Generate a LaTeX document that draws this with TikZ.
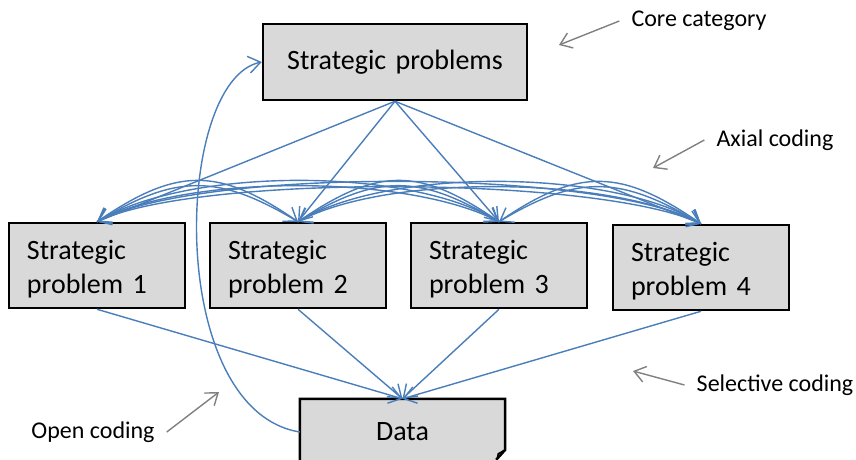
\documentclass[tikz,border=0pt]{standalone}
\usepackage{fontspec}
\setmainfont{Carlito}
\usepackage{tikz}
\usetikzlibrary{arrows.meta,backgrounds}
\definecolor{lineblue}{HTML}{4A7EBB}
\definecolor{boxgray}{HTML}{D9D9D9}
\tikzstyle{box}=[draw, line width=2.5pt, fill=boxgray, minimum height=85pt, text width=140pt, inner xsep=18pt, align=left, font=\fontsize{28}{34}\selectfont]
\tikzstyle{flow}=[lineblue, line width=1.4pt, -{Straight Barb[length=12pt,width=17pt]}]
\tikzstyle{note}=[gray, line width=1.4pt, -{Straight Barb[length=11pt,width=16pt]}]
\tikzstyle{hint}=[font=\fontsize{24}{29}\selectfont, inner xsep=12pt]

\begin{document}
\begin{tikzpicture}[x=1pt,y=-1pt]
            \useasboundingbox (0,0) rectangle (856,459);
            \node [box, text width=228pt, align=center, minimum height=76pt] (top) at (395,62) {Strategic problems};
            \node [box, text depth=32pt] (P1) at (97,265.5) {Strategic\\problem 1};
            \node [box, text depth=32pt, right of=P1, node distance=201pt] (P2) {Strategic\\problem 2};
            \node [box, text depth=32pt, right of=P2, node distance=201pt] (P3) {Strategic\\problem 3};
            \node [box, text depth=32pt, right of=P3, node distance=202pt, yshift=-2pt] (P4) {Strategic\\problem 4};
            \node [minimum width=205pt, minimum height=66pt, font=\fontsize{28}{34}\selectfont] (data) at (402.5,432) {Data};
            \begin{pgfonlayer}{background}
                \fill[boxgray] (data.south west) -- (data.north west) -- (data.north east) -- ++(0,51) -- ++(-9,10) -- cycle;
            \end{pgfonlayer}
            \draw[line width=2.5pt] (data.south west) -- (data.north west) -- (data.north east) -- ++(0,51) -- ++(-9,10);
            \draw[line width=1.5pt] (data.north east) ++(0,51) -- ++(-7,4) -- ++(-1,5);
            \path[flow] (top.south) edge (P1.north);
            \path[flow] (top.south) edge (P2.north);
            \path[flow] (top.south) edge (P3.north);
            \path[flow] (top.south) edge (P4.north);
            \foreach \a/\b/\d/\h in {1/2/80/55,1/3/90/55,1/4/100/55,2/3/80/55,2/4/90/55,3/4/80/55,2/1/-80/48,3/1/-90/48,4/1/-100/48,3/2/-80/48,4/2/-90/48,4/3/-80/48}
                \draw[flow] (P\a.north) .. controls +(\d,-\h) and +(-\d,-\h) .. (P\b.north);
            \path[flow] (P1.south) edge (data.north);
            \path[flow] (P2.south) edge (data.north);
            \path[flow] (P3.south) edge (data.north);
            \path[flow] (P4.south) edge (data.north);
            \draw[flow] (data.west) .. controls +(-135,-22) and +(-88,18) .. (top.west);
            \node [hint] (core) at (699,21) {Core category};
            \node [hint] (axial) at (775,140) {Axial coding};
            \node [hint] (selective) at (775,385) {Selective coding};
            \node [hint] (open) at (93,432) {Open coding};
            \coordinate (coreTip) at (559,45);
            \coordinate (axialTip) at (653,168);
            \coordinate (selectiveTip) at (633,371);
            \coordinate (openTip) at (219,392);
            \path[note] (core.west) edge (coreTip);
            \path[note] (axial.west) edge (axialTip);
            \path[note] (selective.west) edge (selectiveTip);
            \path[note] (open.east) edge (openTip);
        \end{tikzpicture}
\end{document}
